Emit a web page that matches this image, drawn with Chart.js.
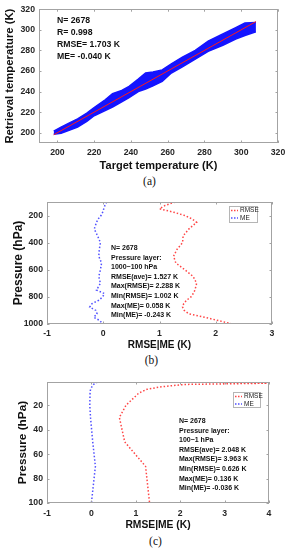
<!DOCTYPE html>
<html>
<head>
<meta charset="utf-8">
<script src="https://cdn.jsdelivr.net/npm/chart.js@4.4.0/dist/chart.umd.min.js"></script>
<style>
  html, body { margin: 0; padding: 0; background: #fff; }
  #wrap { position: relative; width: 291px; height: 550px; overflow: hidden; }
  canvas { position: absolute; left: 0; }
  .cap { position: absolute; width: 291px; text-align: center; font: 11.5px "Liberation Serif", serif; color: #111; }
</style>
</head>
<body>
<div id="wrap">
  <canvas id="chartA" width="291" height="175" style="top:0px"></canvas>
  <div class="cap" style="top:175px; left:4px">(a)</div>
  <canvas id="chartB" width="291" height="163" style="top:190px"></canvas>
  <div class="cap" style="top:354px; left:6px">(b)</div>
  <canvas id="chartC" width="291" height="163" style="top:370px"></canvas>
  <div class="cap" style="top:535px; left:10px">(c)</div>
</div>
<script>
// (a) scatter cloud, read as lower / upper edge of the blue points
const targetT  = [198, 202, 206, 211, 216, 220, 226, 230, 235, 239, 244, 248, 252, 257, 262, 268, 275, 282, 290, 297, 302, 308];
const retrLow  = [198.5, 199.5, 202, 205.5, 211, 216.5, 221.5, 225, 230, 234, 240, 242.5, 245.5, 250, 258, 264, 271.5, 279, 285, 291, 294.5, 298];
const retrHigh = [201.5, 205.5, 209, 213.5, 219, 224.5, 232, 238, 241, 245, 252, 258, 259, 261, 267, 273.5, 280, 289, 296, 302, 306.5, 307];
const fitT = [198, 308];
const fitR = [198, 308];
const ticksA = [200, 220, 240, 260, 280, 300, 320];
const statsA = ['N= 2678', 'R= 0.998', 'RMSE= 1.703 K', 'ME= -0.040 K'];

// (b) 1000~100 hPa
const pressureB = [100, 125, 150, 175, 200, 225, 250, 300, 350, 400, 450, 500, 550, 600, 650, 700, 750, 775, 800, 825, 850, 875, 900, 925, 950, 975, 1000];
const rmseB = [1.28, 1.10, 1.00, 1.25, 1.45, 1.58, 1.66, 1.52, 1.42, 1.41, 1.31, 1.25, 1.29, 1.45, 1.60, 1.66, 1.63, 1.60, 1.56, 1.48, 1.43, 1.41, 1.44, 1.52, 1.80, 2.05, 2.29];
const meB = [0.06, 0.03, 0.01, -0.01, -0.04, -0.09, -0.12, -0.16, -0.10, -0.05, -0.07, -0.08, -0.03, -0.05, -0.08, -0.05, -0.12, 0.02, -0.01, -0.08, -0.20, -0.24, -0.13, -0.11, -0.17, -0.06, -0.01];
const xTicksB = [-1, 0, 1, 2, 3];
const yTicksB = [200, 400, 600, 800, 1000];
const statsB = ['N= 2678', 'Pressure layer:', '1000~100 hPa', 'RMSE(ave)= 1.527 K', 'Max(RMSE)= 2.288 K', 'Min(RMSE)= 1.002 K', 'Max(ME)= 0.058 K', 'Min(ME)= -0.243 K'];

// (c) 100~1 hPa
const pressureC = [1, 2, 3, 5, 7, 10, 20, 30, 50, 70, 100];
const rmseC = [2.40, 3.96, 2.10, 1.55, 1.25, 1.07, 0.78, 0.63, 0.75, 1.22, 1.31];
const meC = [0.136, 0.10, 0.05, 0.01, -0.02, -0.03, -0.036, -0.02, 0.03, 0.09, 0.0];
const xTicksC = [-1, 0, 1, 2, 3, 4];
const yTicksC = [20, 40, 60, 80, 100];
const statsC = ['N= 2678', 'Pressure layer:', '100~1 hPa', 'RMSE(ave)= 2.048 K', 'Max(RMSE)= 3.963 K', 'Min(RMSE)= 0.626 K', 'Max(ME)= 0.136 K', 'Min(ME)= -0.036 K'];

const SANS = '"Liberation Sans", Arial, sans-serif';
const FRAME = '#a3a3a3';

function pairs(xs, ys) {
  return xs.map((x, i) => ({ x: x, y: ys[i] }));
}

// matlab-ish box, inward ticks, stats text and legend
const framePlugin = {
  id: 'frame',
  afterDraw(chart, args, opts) {
    const { ctx, chartArea: a, scales } = chart;
    ctx.save();
    ctx.strokeStyle = FRAME;
    ctx.lineWidth = 1;
    ctx.strokeRect(Math.round(a.left) + 0.5, Math.round(a.top) + 0.5, Math.round(a.width) - 1, Math.round(a.height) - 1);
    ctx.beginPath();
    const tl = 2.5;
    scales.x.ticks.forEach(t => {
      const px = Math.round(scales.x.getPixelForValue(t.value)) + 0.5;
      ctx.moveTo(px, a.bottom); ctx.lineTo(px, a.bottom - tl);
      ctx.moveTo(px, a.top); ctx.lineTo(px, a.top + tl);
    });
    scales.y.ticks.forEach(t => {
      const py = Math.round(scales.y.getPixelForValue(t.value)) + 0.5;
      ctx.moveTo(a.left, py); ctx.lineTo(a.left + tl, py);
      ctx.moveTo(a.right, py); ctx.lineTo(a.right - tl, py);
    });
    ctx.stroke();

    if (opts.lines) {
      ctx.fillStyle = '#111';
      ctx.font = opts.font;
      ctx.textBaseline = 'middle';
      ctx.textAlign = 'left';
      opts.lines.forEach((s, i) => ctx.fillText(s, opts.x, opts.y + i * opts.step));
    }

    if (opts.legend) {
      const L = opts.legend;
      ctx.fillStyle = '#fff';
      ctx.fillRect(L.x, L.y, L.w, L.h);
      ctx.strokeStyle = '#b5b5b5';
      ctx.strokeRect(L.x + 0.5, L.y + 0.5, L.w, L.h);
      ctx.font = '6.5px ' + SANS;
      ctx.textBaseline = 'middle';
      const ds = chart.data.datasets;
      ds.forEach((d, i) => {
        const yy = L.y + 4.5 + i * 7.5;
        ctx.strokeStyle = d.borderColor;
        ctx.lineWidth = 1.5;
        ctx.setLineDash([1.5, 1.5]);
        ctx.beginPath();
        ctx.moveTo(L.x + 2, yy); ctx.lineTo(L.x + 9, yy);
        ctx.stroke();
        ctx.setLineDash([]);
        ctx.fillStyle = '#222';
        ctx.fillText(d.label, L.x + 11, yy);
      });
    }
    ctx.restore();
  }
};

function axis(o) {
  return {
    type: 'linear',
    position: o.position,
    min: o.min,
    max: o.max,
    reverse: !!o.reverse,
    grid: { display: false, drawTicks: false },
    border: { display: false },
    ticks: { color: '#262626', padding: o.pad, font: { family: SANS, size: 8.7, weight: 'bold' }, callback: v => String(v) },
    title: { display: true, text: o.title, color: '#111', padding: o.titlePad, font: { family: SANS, size: o.titleSize, weight: 'bold' } },
    afterBuildTicks: s => { s.ticks = o.ticks.map(v => ({ value: v })); },
    afterFit: s => { if (o.width) s.width = o.width; if (o.height) s.height = o.height; }
  };
}

function baseOptions(pad, scales, frame) {
  return {
    responsive: false,
    animation: false,
    layout: { padding: pad },
    plugins: { legend: { display: false }, tooltip: { enabled: false }, frame: frame },
    scales: scales
  };
}

// (a)
new Chart(document.getElementById('chartA'), {
  type: 'scatter',
  data: {
    datasets: [
      { label: 'fit', data: pairs(fitT, fitR), showLine: true, borderColor: '#ff1a1a', borderWidth: 1, pointRadius: 0, order: 0 },
      { label: 'low', data: pairs(targetT, retrLow), showLine: true, borderColor: '#1414ff', borderWidth: 1.5, pointRadius: 0, order: 1 },
      { label: 'high', data: pairs(targetT, retrHigh), showLine: true, borderColor: '#1414ff', borderWidth: 1.5, pointRadius: 0, fill: '-1', backgroundColor: '#1414ff', order: 2 }
    ]
  },
  options: baseOptions({ top: 7, right: 13, left: 0, bottom: 0 }, {
    x: axis({ position: 'bottom', min: 190, max: 320, ticks: ticksA, pad: 4, title: 'Target temperature (K)', titleSize: 11, titlePad: { top: 0, bottom: 2 }, height: 32 }),
    y: axis({ position: 'left', min: 190, max: 320, ticks: ticksA, pad: 4, title: 'Retrieval temperature (K)', titleSize: 11.3, titlePad: { top: 3, bottom: 0 }, width: 39 })
  }, { lines: statsA, font: 'bold 8.7px ' + SANS, x: 57, y: 21, step: 12 }),
  plugins: [framePlugin]
});

// (b)
new Chart(document.getElementById('chartB'), {
  type: 'scatter',
  data: {
    datasets: [
      { label: 'RMSE', data: pairs(rmseB, pressureB), showLine: true, borderColor: 'rgb(255,70,70)', borderWidth: 1.5, borderDash: [1.5, 2], pointRadius: 0 },
      { label: 'ME', data: pairs(meB, pressureB), showLine: true, borderColor: 'rgb(80,80,255)', borderWidth: 1.5, borderDash: [1.5, 2], pointRadius: 0 }
    ]
  },
  options: baseOptions({ top: 12, right: 19, left: 0, bottom: 0 }, {
    x: axis({ position: 'bottom', min: -1, max: 3, ticks: xTicksB, pad: 4, title: 'RMSE|ME (K)', titleSize: 10, titlePad: { top: 0, bottom: 2 }, height: 29 }),
    y: axis({ position: 'left', min: 100, max: 1000, reverse: true, ticks: yTicksB, pad: 4, title: 'Pressure (hPa)', titleSize: 12, titlePad: { top: 11, bottom: 0 }, width: 47 })
  }, { lines: statsB, font: 'bold 7px ' + SANS, x: 111, y: 58, step: 9.6, legend: { x: 229, y: 16, w: 28, h: 16 } }),
  plugins: [framePlugin]
});

// (c)
new Chart(document.getElementById('chartC'), {
  type: 'scatter',
  data: {
    datasets: [
      { label: 'RMSE', data: pairs(rmseC, pressureC), showLine: true, borderColor: 'rgb(255,70,70)', borderWidth: 1.5, borderDash: [1.5, 2], pointRadius: 0 },
      { label: 'ME', data: pairs(meC, pressureC), showLine: true, borderColor: 'rgb(80,80,255)', borderWidth: 1.5, borderDash: [1.5, 2], pointRadius: 0 }
    ]
  },
  options: baseOptions({ top: 12, right: 22, left: 0, bottom: 0 }, {
    x: axis({ position: 'bottom', min: -1, max: 4, ticks: xTicksC, pad: 5, title: 'RMSE|ME (K)', titleSize: 10.3, titlePad: { top: 0, bottom: 2 }, height: 30 }),
    y: axis({ position: 'left', min: 1, max: 100, reverse: true, ticks: yTicksC, pad: 4, title: 'Pressure (hPa)', titleSize: 11.8, titlePad: { top: 16, bottom: 0 }, width: 47 })
  }, { lines: statsC, font: 'bold 7px ' + SANS, x: 179, y: 51, step: 9.6, legend: { x: 233, y: 22, w: 27, h: 15 } }),
  plugins: [framePlugin]
});
</script>
</body>
</html>
